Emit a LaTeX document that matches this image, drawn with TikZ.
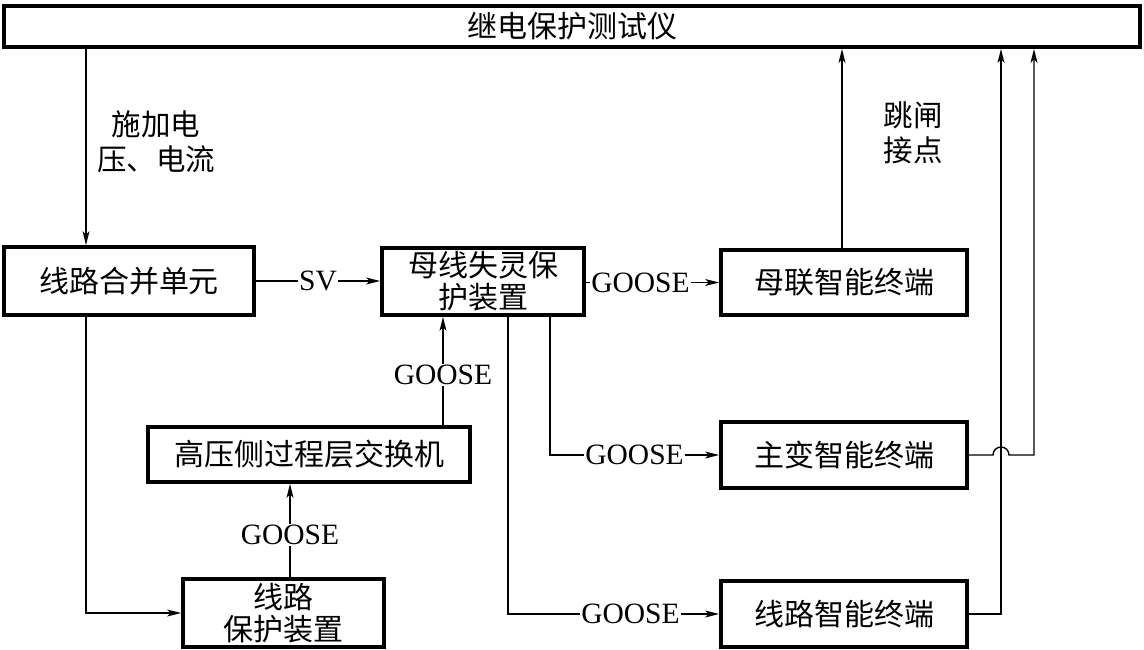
\documentclass[tikz,border=0pt]{standalone}
\usepackage{fontspec}
\setmainfont{Liberation Serif}
\newfontfamily\cjk{Noto Sans CJK SC}
\usetikzlibrary{arrows.meta}
\begin{document}
\begin{tikzpicture}[x=1pt,y=-1pt,
  box/.style={draw,line width=3.8pt,inner sep=0pt,align=center,font=\cjk\fontsize{30}{32}\selectfont},
  conn/.style={line width=1.4pt},
  arr/.style={conn,-{Stealth[length=14pt,width=7pt,inset=3.5pt]}},
  lab/.style={fill=white,inner sep=1pt,font=\fontsize{29.5}{30}\selectfont},
  cjklab/.style={align=center,font=\cjk\fontsize{29.5}{35}\selectfont}]
\useasboundingbox (0,0) rectangle (1144,650);
% boxes
\node[box,minimum width=1136pt,minimum height=41pt] (top) at (572,26.5) {继电保护测试仪};
\node[box,minimum width=250pt,minimum height=68pt] (mu) at (129,281) {线路合并单元};
\node[box,minimum width=202pt,minimum height=67pt] (bus) at (483,281.5) {母线失灵保\\护装置};
\node[box,minimum width=246pt,minimum height=65pt] (ml) at (844,282.5) {母联智能终端};
\node[box,minimum width=246pt,minimum height=66pt] (zb) at (844,455) {主变智能终端};
\node[box,minimum width=246pt,minimum height=66pt] (xlt) at (844,614) {线路智能终端};
\node[box,minimum width=322pt,minimum height=55pt] (sw) at (309,454.5) {高压侧过程层交换机};
\node[box,minimum width=201pt,minimum height=68pt] (lp) at (283.5,613) {线路\\保护装置};
% free labels
\node[cjklab] (t1) at (156,142) {施加电\\压、电流};
\node[cjklab] (t2) at (913,133) {跳闸\\接点};
% helper coordinates
\coordinate (x86) at (86,0);
\coordinate (x842) at (842,0);
\coordinate (x1001) at (1001,0);
\coordinate (x1034) at (1034,0);
\coordinate (x443) at (443,0);
\coordinate (x290) at (290,0);
\coordinate (x550) at (550,0);
\coordinate (x508) at (508,0);
\coordinate (x993) at (993,0);
% connectors
\draw[arr] (top.south -| x86) -- (mu.north -| x86);
\draw[arr] (mu.south -| x86) |- (lp.west);
\draw[arr] (mu.east) -- node[lab]{SV} (bus.west |- mu.east);
\draw[arr] (bus.east |- ml.west) -- node[lab,pos=0.41]{GOOSE} (ml.west);
\draw[arr] (bus.south -| x550) |- node[lab,pos=0.75]{GOOSE} (zb.west);
\draw[arr] (bus.south -| x508) |- node[lab,pos=0.79]{GOOSE} (xlt.west);
\draw[arr] (sw.north -| x443) -- node[lab,pos=0.46]{GOOSE} (bus.south -| x443);
\draw[arr] (lp.north -| x290) -- node[lab,pos=0.45]{GOOSE} (sw.south -| x290);
\draw[arr] (ml.north -| x842) -- (top.south -| x842);
\draw[arr] (xlt.east) -| (top.south -| x1001);
\draw[arr] (zb.east) -- (zb.east -| x993) arc[start angle=180,end angle=360,radius=8] -- (zb.east -| x1034) -- (top.south -| x1034);
\end{tikzpicture}
\end{document}
